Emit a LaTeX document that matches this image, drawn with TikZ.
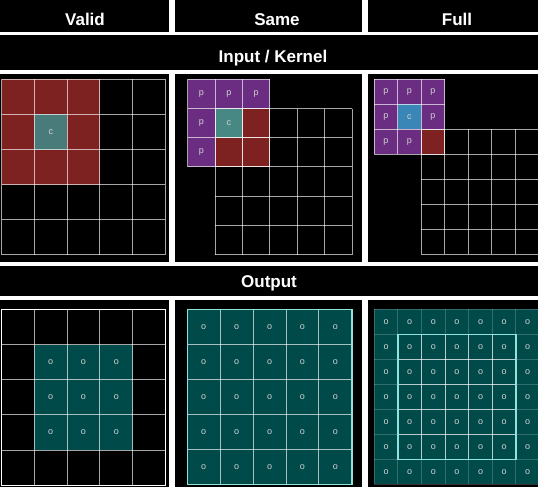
\documentclass[tikz,border=0pt]{standalone}
\usepackage{fontspec}
\setmainfont{Liberation Sans}
\usepackage{tikz}
\usetikzlibrary{positioning}
\definecolor{kred}{RGB}{125,33,33}
\definecolor{kpurple}{RGB}{106,45,130}
\definecolor{kcentre}{RGB}{74,123,123}
\definecolor{kteal}{RGB}{72,136,132}
\definecolor{kblue}{RGB}{58,135,183}
\definecolor{oteal}{RGB}{0,74,74}
\definecolor{ocyan}{RGB}{143,227,220}
\definecolor{labgrey}{RGB}{210,210,210}

\begin{document}
\begin{tikzpicture}[x=1pt,y=-1pt,
	panel/.style={fill=black},
	title/.style={text=white,font=\bfseries\fontsize{17}{17}\selectfont,anchor=base},
	lab/.style={text=labgrey,font=\fontsize{9}{9}\selectfont},
	gridline/.style={draw=white,draw opacity=0.65,line width=0.9pt},
	faintline/.style={draw=white,draw opacity=0.2,line width=0.9pt}]
				
				\useasboundingbox (0,0) rectangle (538,487);
				\fill[white] (0,0) rectangle (538,487);
				
				\foreach \ya/\yb in {0/32,74/262,300/487}{
					\fill[panel] (0,\ya) rectangle (169,\yb);
					\fill[panel] (175,\ya) rectangle (362,\yb);
					\fill[panel] (368,\ya) rectangle (538,\yb);
				}
				\fill[panel] (0,35) rectangle (538,70);
				\fill[panel] (0,266) rectangle (538,296);
				
				\node[title] (tvalid) at (85,26) {Valid};
				\node[title] (tsame) at (277,26) {Same};
				\node[title] (tfull) at (457,26) {Full};
				\node[title] (tinput) at (273,62.5) {Input / Kernel};
				\node[title] (toutput) at (269,287) {Output};
				
				\begin{scope}[shift={(1.7,79.3)},x=32.7pt,y=-35.1pt]
					
					\fill[kred] (0,0) rectangle (3,3);
					\fill[kcentre] (1,1) rectangle (2,2);
					
					\foreach \i in {0,...,5}{
						\draw[gridline] (\i,0) -- (\i,5);
						\draw[gridline] (0,\i) -- (5,\i);
					}
					
					\node[lab] (vc) at (1.5,1.5) {c};
					
				\end{scope}
				
				\begin{scope}[shift={(187.7,79.3)},x=27.4pt,y=-29.2pt]
					
					\fill[kpurple] (0,0) rectangle (3,3);
					\fill[kred] (1,1) rectangle (3,3);
					\fill[kteal] (1,1) rectangle (2,2);
					
					\foreach \i in {1,...,6}{
						\draw[gridline] (\i,1) -- (\i,6);
						\draw[gridline] (1,\i) -- (6,\i);
					}
					\foreach \i in {0,...,3}{
						\draw[gridline] (\i,0) -- (\i,3);
						\draw[gridline] (0,\i) -- (3,\i);
					}
					
					\foreach \x/\y in {0.5/0.5,1.5/0.5,2.5/0.5,0.5/1.5,0.5/2.5}
					\node[lab] (sp\x\y) at (\x,\y) {p};
					\node[lab] (sc) at (1.5,1.5) {c};
					
				\end{scope}
				
				\begin{scope}[shift={(374,79.3)},x=23.5pt,y=-25pt]
					
					\fill[kpurple] (0,0) rectangle (3,3);
					\fill[kblue] (1,1) rectangle (2,2);
					\fill[kred] (2,2) rectangle (3,3);
					
					\foreach \i in {2,...,7}{
						\draw[gridline] (\i,2) -- (\i,7);
						\draw[gridline] (2,\i) -- (7,\i);
					}
					\foreach \i in {0,...,3}{
						\draw[gridline] (\i,0) -- (\i,3);
						\draw[gridline] (0,\i) -- (3,\i);
					}
					
					\foreach \x/\y in {0.5/0.5,1.5/0.5,2.5/0.5,0.5/1.5,2.5/1.5,0.5/2.5,1.5/2.5}
					\node[lab] (fp\x\y) at (\x,\y) {p};
					\node[lab] (fc) at (1.5,1.5) {c};
					
				\end{scope}
				
				\begin{scope}[shift={(1.5,309.3)},x=32.8pt,y=-35.2pt]
					
					\fill[oteal] (1,1) rectangle (4,4);
					
					\foreach \i in {0,...,5}{
						\draw[gridline] (\i,0) -- (\i,5);
						\draw[gridline] (0,\i) -- (5,\i);
					}
					\draw[white,line width=1.3pt] (0,0) rectangle (5,5);
					
					\foreach \x in {1,2,3}
					\foreach \y in {1,2,3}
					\node[lab] (vo\x\y) at (\x+0.5,\y+0.5) {o};
					
				\end{scope}
				
				\begin{scope}[shift={(187.3,309.3)},x=32.9pt,y=-35pt]
					
					\fill[oteal] (0,0) rectangle (5,5);
					
					\foreach \i in {0,...,5}{
						\draw[gridline] (\i,0) -- (\i,5);
						\draw[gridline] (0,\i) -- (5,\i);
					}
					\draw[ocyan,line width=1.5pt] (0,0) rectangle (5,5);
					
					\foreach \x in {0,...,4}
					\foreach \y in {0,...,4}
					\node[lab] (so\x\y) at (\x+0.5,\y+0.5) {o};
					
				\end{scope}
				
				\begin{scope}[shift={(374.3,309.3)},x=23.6pt,y=-25pt]
					
					\fill[oteal] (0,0) rectangle (7,7);
					
					\foreach \i in {0,...,7}{
						\draw[faintline] (\i,0) -- (\i,7);
						\draw[faintline] (0,\i) -- (7,\i);
					}
					\foreach \i in {1,...,6}{
						\draw[gridline] (\i,1) -- (\i,6);
						\draw[gridline] (1,\i) -- (6,\i);
					}
					\draw[ocyan,line width=1.5pt] (1,1) rectangle (6,6);
					
					\foreach \x in {0,...,6}
					\foreach \y in {0,...,6}
					\node[lab] (fo\x\y) at (\x+0.5,\y+0.5) {o};
					
				\end{scope}
				
			\end{tikzpicture}
\end{document}
